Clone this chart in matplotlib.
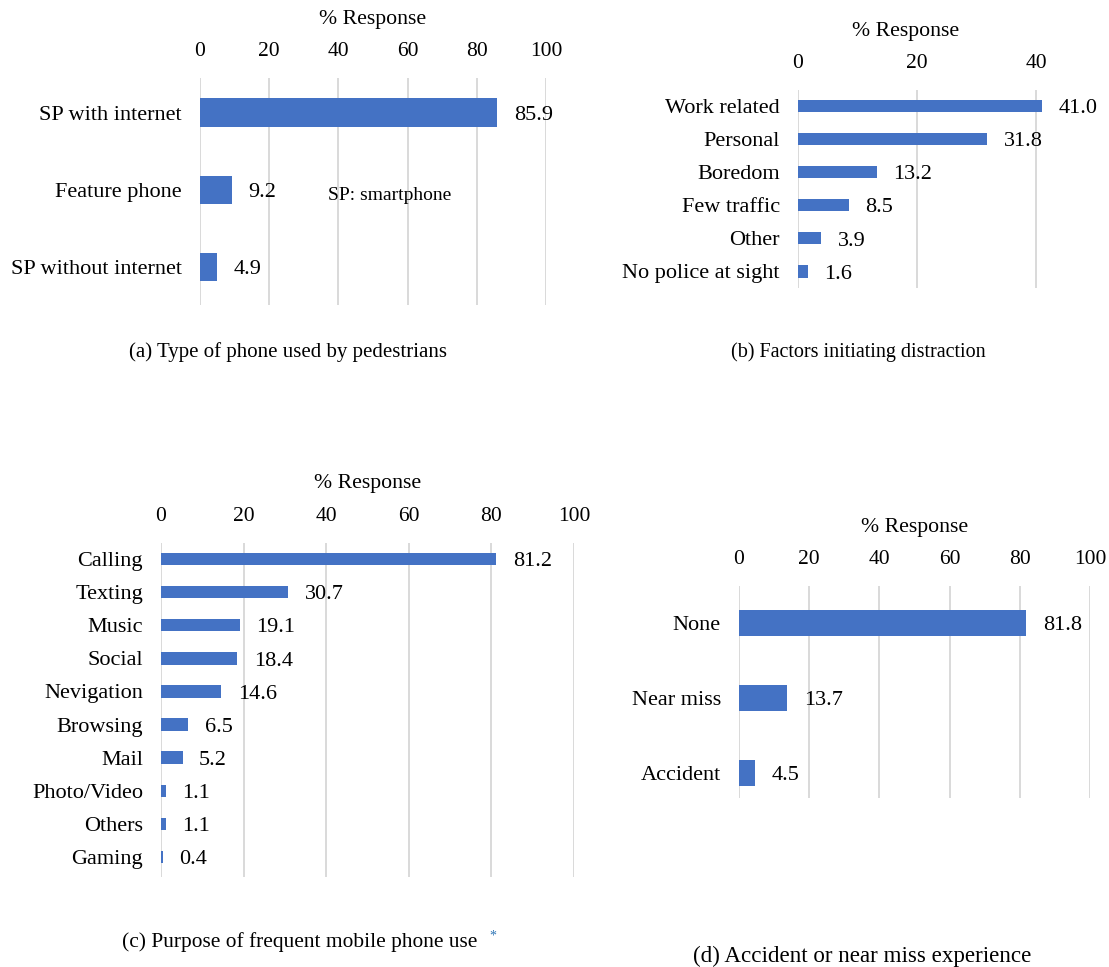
#!/usr/bin/env python3

import matplotlib
matplotlib.use('Agg')
from matplotlib import pyplot as plt

plt.rcParams['font.family'] = ['Liberation Serif', 'DejaVu Serif']
plt.rcParams['font.size'] = 16

BLUE = '#4472C4'
GRID = '#D9D9D9'

# (a) type of phone
phone_types = ['SP with internet', 'Feature phone', 'SP without internet']
phone_pct = [85.9, 9.2, 4.9]

# (b) factors initiating distraction
factors = ['Work related', 'Personal', 'Boredom', 'Few traffic', 'Other', 'No police at sight']
factor_pct = [41.0, 31.8, 13.2, 8.5, 3.9, 1.6]

# (c) purpose of frequent use
purposes = ['Calling', 'Texting', 'Music', 'Social', 'Nevigation', 'Browsing',
            'Mail', 'Photo/Video', 'Others', 'Gaming']
purpose_pct = [81.2, 30.7, 19.1, 18.4, 14.6, 6.5, 5.2, 1.1, 1.1, 0.4]

# (d) accident / near miss
experiences = ['None', 'Near miss', 'Accident']
experience_pct = [81.8, 13.7, 4.5]


def hbar(fig, rect, cats, vals, xmax, xticks, ylim, height, label_x):
  ax = fig.add_axes(rect)
  y = list(range(len(cats)))
  ax.barh(y, vals, height=height, color=BLUE, zorder=3)
  for yi, v in zip(y, vals):
    ax.annotate('%.1f' % v, (v, yi), xytext=(12, -2), textcoords='offset points',
                va='center', ha='left', fontsize=16)
  ax.set_xlim(0, xmax)
  ax.set_ylim(*ylim)
  ax.set_yticks(y)
  ax.set_yticklabels(cats, fontsize=16)
  ax.set_xticks(xticks)
  ax.xaxis.tick_top()
  ax.xaxis.set_label_position('top')
  ax.set_xlabel('% Response', fontsize=15.7)
  ax.xaxis.set_label_coords(label_x, 1.0 + 59 / (rect[3] * 967))
  ax.xaxis.label.set_va('center')
  ax.tick_params(axis='both', length=0)
  ax.tick_params(axis='x', pad=12, labelsize=15.5)
  ax.tick_params(axis='y', pad=13)
  ax.grid(axis='x', color=GRID, linewidth=1.4, zorder=0)
  for s in ax.spines.values():
    s.set_visible(False)
  return ax


fig = plt.figure(figsize=(11.09, 9.67), dpi=100)

ax_a = hbar(fig, [0.1803, 0.6846, 0.3120, 0.2347], phone_types, phone_pct,
            100, range(0, 101, 20), (2.49, -0.45), 0.37, 0.5)
ax_a.text(37, 1.07, 'SP: smartphone', fontsize=14, va='center', ha='left')

hbar(fig, [0.7196, 0.7022, 0.2415, 0.2047], factors, factor_pct,
     45, [0, 20, 40], (5.5, -0.48), 0.37, 0.403)

hbar(fig, [0.1452, 0.0931, 0.3724, 0.3454], purposes, purpose_pct,
     100, range(0, 101, 20), (9.6, -0.48), 0.38, 0.5)

hbar(fig, [0.6664, 0.1748, 0.3165, 0.2192], experiences, experience_pct,
     100, range(0, 101, 20), (2.33, -0.49), 0.35, 0.5)

# captions
fig.text(288 / 1109, 1 - 352 / 967, '(a) Type of phone used by pedestrians',
         ha='center', va='center', fontsize=15)
fig.text(858 / 1109, 1 - 352 / 967, '(b) Factors initiating distraction',
         ha='center', va='center', fontsize=14.5)
fig.text(122 / 1109, 1 - 942 / 967, '(c) Purpose of frequent mobile phone use',
         ha='left', va='center', fontsize=15.4)
fig.text(489 / 1109, 1 - 936 / 967, '*', ha='left', va='center',
         fontsize=10, color='#2E75B6')
fig.text(862 / 1109, 1 - 956 / 967, '(d) Accident or near miss experience',
         ha='center', va='center', fontsize=16.6)

plt.savefig('out.png', dpi=100)
